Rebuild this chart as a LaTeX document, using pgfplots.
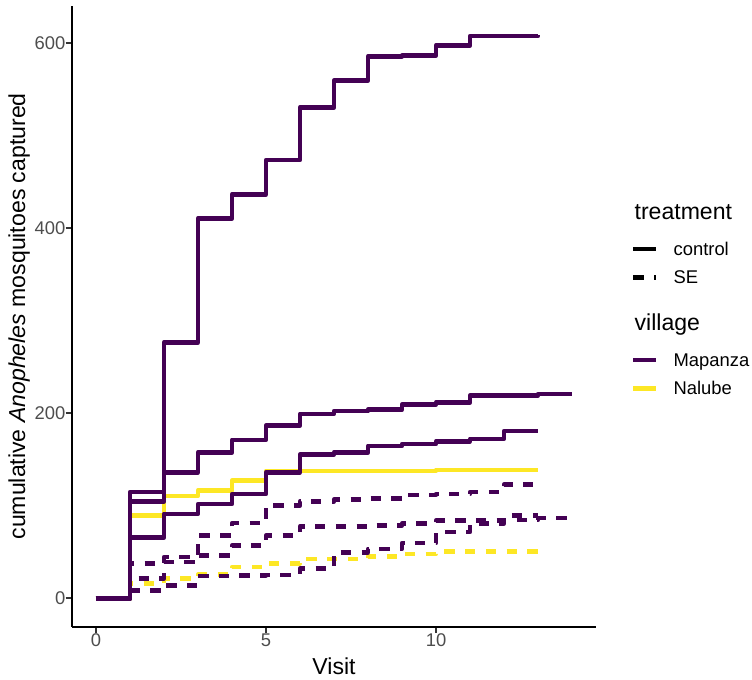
\documentclass[border=0pt]{standalone}
\usepackage{fontspec}
\setmainfont{Liberation Sans}
\usepackage{pgfplots}
\pgfplotsset{compat=1.18}
\newlength\pxu
\setlength\pxu{0.75pt}
\definecolor{vpurple}{HTML}{440154}
\definecolor{vyellow}{HTML}{FDE725}
\definecolor{grey30}{HTML}{4D4D4D}
\definecolor{grey20}{HTML}{333333}
\pgfplotsset{
  stepline/.style={const plot, mark=none, line width=4.6\pxu, line cap=butt, line join=round, forget plot},
  dashline/.style={stepline, dash pattern=on 10.4\pxu off 10.4\pxu},
}
\begin{document}
\begin{tikzpicture}
\useasboundingbox (0,0) rectangle (752\pxu,680\pxu);
\begin{axis}[
  at={(72.2\pxu,53.3\pxu)}, anchor=south west,
  scale only axis, width=523.6\pxu, height=620.7\pxu,
  xmin=-0.7, xmax=14.7, ymin=-30.5, ymax=640.5,
  axis x line*=bottom, axis y line*=left,
  axis line style={black, line width=2\pxu},
  xtick={0,5,10}, ytick={0,200,400,600},
  tick align=outside, major tick length=6.5\pxu,
  tick style={grey20, line width=2\pxu},
  /pgf/number format/assume math mode=true,
  ticklabel style={font=\fontsize{13.8}{16}\selectfont, text=grey30, inner sep=0pt},
  xticklabel style={anchor=north},
  yticklabel style={anchor=east},
  xlabel={Visit},
  ylabel={cumulative \textit{Anopheles} mosquitoes captured},
  label style={font=\fontsize{17.3}{21}\selectfont, inner sep=0pt},
  xlabel style={at={(axis description cs:0.5,0)}, anchor=base, yshift=-48.3\pxu},
  ylabel style={at={(axis description cs:-0.0901,0.5)}, anchor=base},
  legend style={draw=none, fill=none, inner sep=0pt, outer sep=0pt,
    at={(1.06723,0.67939)}, anchor=north west, row sep=0pt, column sep=15\pxu,
    cells={anchor=base west}, nodes={inner sep=0pt, outer sep=0pt, text depth=0pt},
    font=\fontsize{13.8}{16}\selectfont},
  legend image code/.code={\draw[#1, line cap=butt] (0pt,6.5\pxu) -- (23\pxu,6.5\pxu);},
]
% Nalube control
\addplot[stepline, vyellow] coordinates {(0,0) (1,90) (2,111) (3,117) (4,127.6) (5,138) (6,138) (7,138) (8,138) (9,138) (10,139) (11,139) (12,139) (13,139)};
% Nalube SE
\addplot[dashline, vyellow] coordinates {(0,0) (1,16) (2,21.3) (3,26) (4,34) (5,37.8) (6,42.5) (7,42.5) (8,45.4) (9,48.3) (10,50.8) (11,50.8) (12,50.8) (13,50.8)};
% Mapanza control
\addplot[stepline, vpurple] coordinates {(0,0) (1,115) (2,277) (3,411) (4,437) (5,474) (6,531) (7,560) (8,586) (9,587) (10,598) (11,608) (12,608) (13,609)};
\addplot[stepline, vpurple] coordinates {(0,0) (1,105) (2,136.5) (3,158) (4,171.5) (5,187) (6,199.6) (7,202.5) (8,204) (9,209.7) (10,212) (11,219.5) (12,219.5) (13,221) (14,221)};
\addplot[stepline, vpurple] coordinates {(0,0) (1,66) (2,91.5) (3,102) (4,113) (5,136.5) (6,155.7) (7,158) (8,165) (9,167) (10,170) (11,172.6) (12,181) (13,181)};
% Mapanza SE
\addplot[dashline, vpurple] coordinates {(0,0) (1,37.5) (2,44.7) (3,68) (4,81.4) (5,100.5) (6,105) (7,107) (8,108) (9,112) (10,113) (11,115) (12,123) (13,123)};
\addplot[dashline, vpurple] coordinates {(0,0) (1,21.5) (2,39.3) (3,46.5) (4,57.3) (5,68) (6,78) (7,78) (8,79) (9,81) (10,84) (11,84) (12,90) (13,90)};
\addplot[dashline, vpurple] coordinates {(0,0) (1,8.6) (2,14) (3,24.5) (4,25) (5,25.6) (6,32.4) (7,50) (8,53.7) (9,60) (10,72) (11,81) (12,85) (13,87) (14,87)};
% legend
\addlegendimage{empty legend}
\addlegendentry{\raisebox{0pt}[15\pxu][0pt]{\hspace*{-39\pxu}\fontsize{17.3}{21}\selectfont treatment}}
\addlegendimage{black, line width=4.6\pxu}
\addlegendentry{\raisebox{0pt}[35.5\pxu][0pt]{control}}
\addlegendimage{black, line width=4.6\pxu, dash pattern=on 10.4\pxu off 10.4\pxu}
\addlegendentry{\raisebox{0pt}[28.5\pxu][0pt]{SE}}
\addlegendimage{empty legend}
\addlegendentry{\raisebox{0pt}[47\pxu][0pt]{\hspace*{-39\pxu}\fontsize{17.3}{21}\selectfont village}}
\addlegendimage{vpurple, line width=4.6\pxu}
\addlegendentry{\raisebox{0pt}[35.5\pxu][0pt]{Mapanza}}
\addlegendimage{vyellow, line width=4.6\pxu}
\addlegendentry{\raisebox{0pt}[28.5\pxu][0pt]{Nalube}}
\end{axis}
\end{tikzpicture}
\end{document}
